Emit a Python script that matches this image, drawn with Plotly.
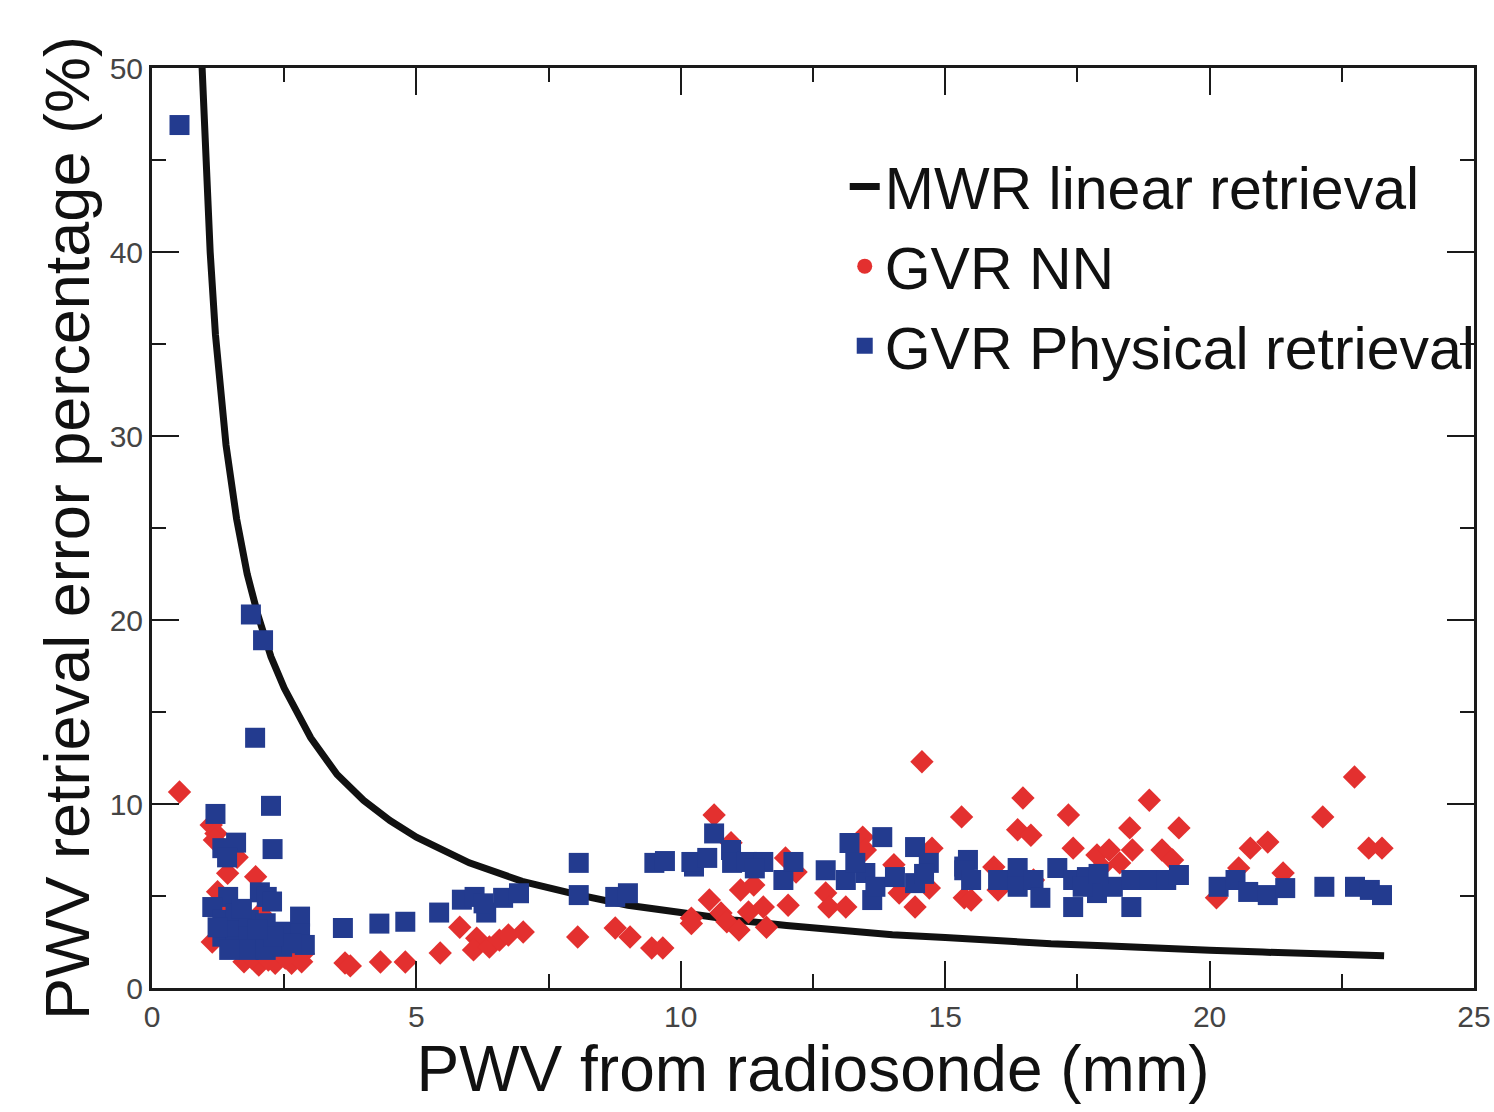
import plotly.graph_objects as go

# MWR linear retrieval curve
mwr_x = [0.94, 1.0, 1.1, 1.2, 1.4, 1.6, 1.8, 2.0, 2.25, 2.5, 3.0, 3.5, 4.0, 4.5, 5.0, 6.0, 7.0, 8.0,
         9.0, 10.0, 11.0, 12.0, 13.0, 14.0, 15.0, 16.0, 17.0, 18.0, 19.0, 20.0, 21.0, 22.0, 23.3]
mwr_y = [50.5, 46.0, 40.0, 35.5, 29.5, 25.5, 22.5, 20.3, 18.0, 16.3, 13.6, 11.6, 10.2, 9.1, 8.2, 6.8, 5.8, 5.1,
         4.5, 4.1, 3.7, 3.4, 3.15, 2.9, 2.75, 2.55, 2.4, 2.3, 2.15, 2.05, 1.95, 1.85, 1.75]

# GVR NN points
nn_x = [0.52, 1.12, 1.21, 1.18, 1.43, 1.96, 1.24, 1.61, 1.46, 2.05, 1.14, 1.74, 2.02, 2.33, 2.64, 2.86, 2.83,
        1.89, 2.2, 2.52,
        3.65, 3.75, 4.32, 4.79, 5.45, 5.82, 6.14, 6.08, 6.38, 6.57, 6.74, 7.02, 8.05, 8.76, 9.04, 9.45, 9.66,
        10.2, 10.2,
        10.63, 10.95, 11.13, 11.38, 10.54, 10.76, 10.87, 11.1, 11.28, 11.62, 11.56, 12.03, 11.98, 12.18,
        13.44, 13.49, 14.03, 12.74, 12.8, 13.12, 14.13, 14.43, 14.7, 14.75, 15.31, 15.36, 14.56,
        16.47, 16.37, 16.62, 17.33, 17.42, 17.87, 18.1, 18.49, 18.54, 18.86, 19.1, 19.42, 19.3, 15.92, 15.49,
        16.0, 16.67, 17.96, 17.8, 18.3,
        20.13, 20.55, 20.77, 21.1, 21.39, 22.14, 22.74, 23.01, 23.26]
nn_y = [10.65, 8.86, 8.4, 8.04, 6.23, 6.05, 5.23, 7.1, 4.46, 4.06, 2.5, 1.43, 1.25, 1.34, 1.34, 1.88, 1.43,
        1.63, 1.52, 1.63,
        1.36, 1.2, 1.41, 1.41, 1.9, 3.3, 2.7, 2.07, 2.23, 2.6, 2.88, 3.04, 2.77, 3.26, 2.77, 2.17, 2.17,
        3.8, 3.5,
        9.4, 7.9, 5.33, 5.6, 4.78, 4.08, 3.6, 3.15, 4.13, 3.3, 4.4, 4.5, 7.07, 6.3,
        8.2, 7.5, 6.7, 5.16, 4.4, 4.4, 5.16, 4.4, 5.43, 7.6, 9.3, 4.9, 12.3,
        10.33, 8.6, 8.3, 9.4, 7.6, 7.23, 7.5, 8.7, 7.5, 10.2, 7.5, 8.7, 6.96, 6.58, 4.78,
        5.33, 5.87, 6.58, 5.5, 6.8,
        4.9, 6.52, 7.6, 7.93, 6.25, 9.3, 11.47, 7.6, 7.6]

# GVR Physical retrieval points
ph_x = [0.52, 1.87, 2.1, 1.95, 2.25, 2.28, 1.2, 1.33, 1.59, 1.42, 1.44, 1.14, 2.04, 2.17, 2.27,
        1.33, 1.33, 1.58, 1.58, 1.58, 1.83, 1.83, 1.83, 2.15, 2.15, 2.15, 2.46, 2.46, 2.8, 2.8, 2.89, 2.64,
        2.3, 1.46, 1.24, 1.7, 2.0,
        3.61, 4.3, 4.79, 5.43, 5.86, 6.1, 6.32, 6.27, 6.64, 6.94, 8.07, 8.07, 8.76, 9.0, 9.5, 9.7, 10.25,
        10.63, 10.2, 10.5, 10.95, 10.97, 11.25, 11.56, 11.4, 11.94, 12.13,
        12.74, 13.19, 13.12, 13.49, 13.81, 13.62, 13.68, 14.05, 14.43, 14.43, 14.69, 15.36, 14.6, 13.3,
        15.43, 15.36, 15.49, 16.0, 16.37, 16.37, 16.67, 16.8, 17.12, 17.42, 17.42, 17.68, 17.87, 18.17,
        18.52, 18.52, 18.86, 19.18, 19.42, 17.6, 17.9,
        20.17, 20.49, 20.73, 21.1, 21.43, 22.17, 22.75, 23.03, 23.26]
ph_y = [46.9, 20.3, 18.9, 13.6, 9.9, 7.55, 9.46, 7.6, 7.9, 7.1, 4.95, 4.4, 5.2, 4.95, 4.7,
        3.7, 2.79, 4.06, 3.15, 2.24, 3.7, 2.79, 2.07, 3.52, 2.61, 2.07, 3.06, 2.24, 3.88, 2.97, 2.34, 2.43,
        2.79, 2.07, 3.3, 4.3, 3.2,
        3.26, 3.5, 3.6, 4.1, 4.8, 4.95, 4.1, 4.6, 4.9, 5.15, 5.05, 6.8, 4.95, 5.15, 6.8, 6.9, 6.6,
        8.4, 6.85, 7.07, 7.5, 6.8, 6.85, 6.85, 6.5, 5.87, 6.85,
        6.4, 7.88, 5.87, 6.25, 8.2, 4.78, 5.5, 6.03, 7.66, 5.7, 6.8, 6.6, 6.2, 6.8,
        6.96, 6.4, 5.87, 5.87, 6.52, 5.5, 5.87, 4.9, 6.52, 5.87, 4.4, 6.03, 5.16, 5.5,
        5.87, 4.4, 5.87, 5.87, 6.14, 5.5, 6.2,
        5.5, 5.87, 5.22, 5.05, 5.43, 5.5, 5.5, 5.33, 5.05]

series_names = ["MWR linear retrieval", "GVR NN", "GVR Physical retrieval"]
RED = "#E3302F"
BLUE = "#233B8F"

fig = go.Figure()
fig.add_trace(go.Scatter(x=mwr_x, y=mwr_y, mode="lines", name=series_names[0],
                         line=dict(color="#111111", width=7), legendrank=1))
fig.add_trace(go.Scatter(x=nn_x, y=nn_y, mode="markers", name=series_names[1], showlegend=False,
                         marker=dict(symbol="diamond", size=18, color=RED, line=dict(width=0))))
fig.add_trace(go.Scatter(x=ph_x, y=ph_y, mode="markers", name=series_names[2], showlegend=False,
                         marker=dict(symbol="square", size=20, color=BLUE, line=dict(width=0))))
# legend entries
fig.add_trace(go.Scatter(x=[None], y=[None], mode="markers", name=series_names[1], legendrank=2,
                         marker=dict(symbol="circle", size=15, color=RED)))
fig.add_trace(go.Scatter(x=[None], y=[None], mode="markers", name=series_names[2], legendrank=3,
                         marker=dict(symbol="square", size=16, color=BLUE)))

axis_common = dict(
    showline=True, linecolor="#1a1a1a", linewidth=3, mirror="ticks",
    ticks="inside", ticklen=27, tickwidth=2, tickcolor="#1a1a1a",
    showgrid=False, zeroline=False, ticklabeloverflow="allow",
    tickfont=dict(family="Liberation Sans", size=30, color="#444444"),
)

fig.update_xaxes(range=[0, 25], dtick=5, tick0=0,
                 minor=dict(dtick=2.5, ticks="inside", ticklen=14, tickwidth=2, tickcolor="#1a1a1a"),
                 title=dict(text="PWV from radiosonde (mm)", font=dict(family="Liberation Sans", size=64, color="#111111"),
                            standoff=10),
                 **axis_common)
fig.update_yaxes(range=[0, 50], dtick=10, tick0=0,
                 minor=dict(dtick=5, ticks="inside", ticklen=14, tickwidth=2, tickcolor="#1a1a1a"),
                 title=dict(text="PWV retrieval error percentage (%)", font=dict(family="Liberation Sans", size=63, color="#111111"),
                            standoff=0),
                 **axis_common)

fig.update_layout(
    width=1494, height=1112,
    margin=dict(l=152, r=20, t=68, b=124, autoexpand=False),
    paper_bgcolor="white", plot_bgcolor="white",
    showlegend=True,
    legend=dict(x=0.524, y=0.92, xanchor="left", yanchor="top", bgcolor="rgba(0,0,0,0)",
                font=dict(family="Liberation Sans", size=59, color="#111111"),
                itemsizing="trace", tracegroupgap=0),
)

fig.write_html("out.html", post_script="document.body.style.margin='0';",
               config={"displayModeBar": False})
